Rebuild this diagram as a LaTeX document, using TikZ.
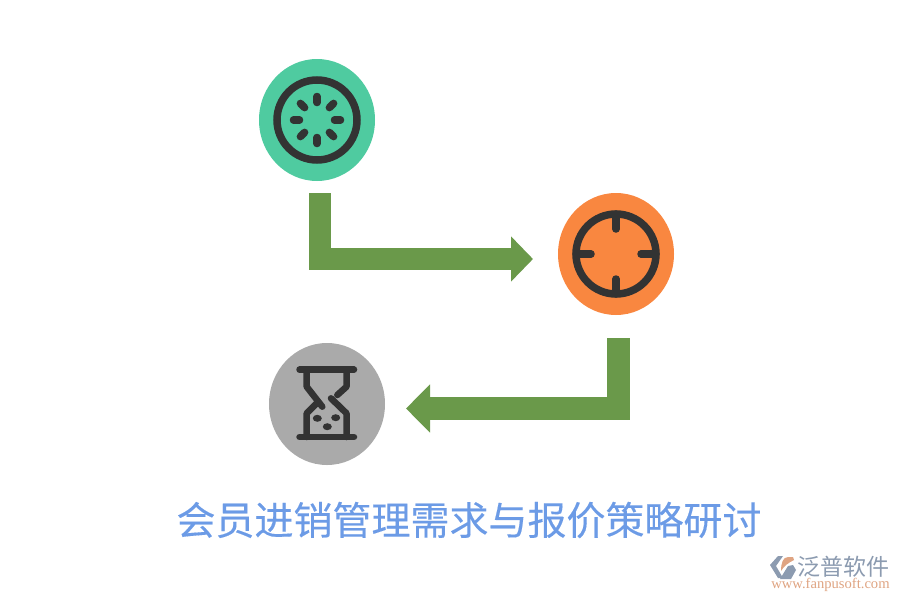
\documentclass[tikz,border=0pt]{standalone}
\usepackage{fontspec}
\newfontfamily\cjk{Noto Sans CJK SC}
\newfontfamily\cjkheavy[FakeBold=0.25]{Noto Sans CJK SC}
\setmainfont{Liberation Serif}
\usetikzlibrary{arrows.meta,shapes.geometric}
\definecolor{greenC}{HTML}{4FCBA0}
\definecolor{orangeC}{HTML}{F98740}
\definecolor{grayC}{HTML}{AAAAAA}
\definecolor{darkC}{HTML}{333333}
\definecolor{arrowC}{HTML}{6A994A}
\definecolor{titleC}{HTML}{6C9BE6}
\definecolor{logoG}{HTML}{8C9BB0}
\definecolor{logoO}{HTML}{DFA482}
\tikzset{
  disc/.style={ellipse,minimum width=116pt,minimum height=122pt,inner sep=0pt,draw=none},
  ring/.style={draw=darkC,line width=7.5pt},
  tick/.style={draw=darkC,line width=7.5pt,line cap=round},
  glass/.style={draw=darkC,line width=6.5pt,line cap=round,line join=round},
  bentarrow/.style={draw=arrowC,line width=22pt,-{Triangle[length=22pt,width=44pt]}},
  bentarrowb/.style={draw=arrowC,line width=23pt,-{Triangle[length=24pt,width=47pt]}},
}
\begin{document}
\begin{tikzpicture}[x=1pt,y=-1pt]
\useasboundingbox (0,0) rectangle (900,600);
\node[disc,fill=greenC] (a) at (317,120) {};
\node[disc,fill=orangeC] (b) at (616,254) {};
\node[disc,fill=grayC] (c) at (327,404) {};
% icon 1
\draw[ring] (a) circle (40pt);
\foreach \ang in {0,45,...,315}{
  \draw[tick] ([shift={(\ang:17.5)}]a.center) -- ([shift={(\ang:23.5)}]a.center);
}
% icon 2
\draw[ring] (b) circle (40pt);
\foreach \ang in {0,90,180,270}{
  \draw[tick] ([shift={(\ang:40)}]b.center) -- ([shift={(\ang:25)}]b.center);
}
% icon 3
\draw[glass] (299.5,369.7) -- (354,369.7);
\draw[glass] (299.5,437) -- (354,437);
\draw[glass] (306.7,370) -- (306.7,386.7) -- (322.3,406.7);
\draw[glass] (316.7,403.3) -- (306.7,413.3) -- (306.7,437);
\draw[glass] (346.5,370) -- (346.5,386.7) -- (337.3,395);
\draw[glass] (331,398.3) -- (346.5,413.3) -- (346.5,437);
\fill[darkC] (317.3,418.3) ellipse (4.5pt and 3.5pt);
\fill[darkC] (335.7,417.7) ellipse (4.5pt and 3.5pt);
\fill[darkC] (327.3,426.7) ellipse (4.5pt and 3.5pt);
% arrows
\coordinate (a1s) at (320,193);
\coordinate (a1e) at (533,259);
\coordinate (a2s) at (618.5,338);
\coordinate (a2e) at (406,408.5);
\draw[bentarrow] (a1s) |- (a1e);
\draw[bentarrowb] (a2s) |- (a2e);
% title
\node[inner sep=0pt,text=titleC,font=\cjkheavy\fontsize{39pt}{40pt}\selectfont] (title) at (469,520) {会员进销管理需求与报价策略研讨};
% logo
\fill[logoG] (778,556) -- (783,556) -- (776,566) -- (783,578) -- (778,578) -- (770,565) -- cycle;
\fill[logoO] (781,571) .. controls (781,563) and (783,557) .. (788,557) -- (793,557) -- (794,560) .. controls (788,563) and (784,566) .. (781,571) -- cycle;
\fill[logoG] (780,579) -- (788,566) -- (793,565) -- (796,570) -- (791,579) -- cycle;
\node[inner sep=0pt,text=logoG,font=\cjk\fontsize{23pt}{24pt}\selectfont] (brand) at (843,566.5) {泛普软件};
\node[inner sep=0pt,text=logoO,font=\fontsize{14.6pt}{15pt}\selectfont] (url) at (830.5,585) {www.fanpusoft.com};
\end{tikzpicture}
\end{document}
